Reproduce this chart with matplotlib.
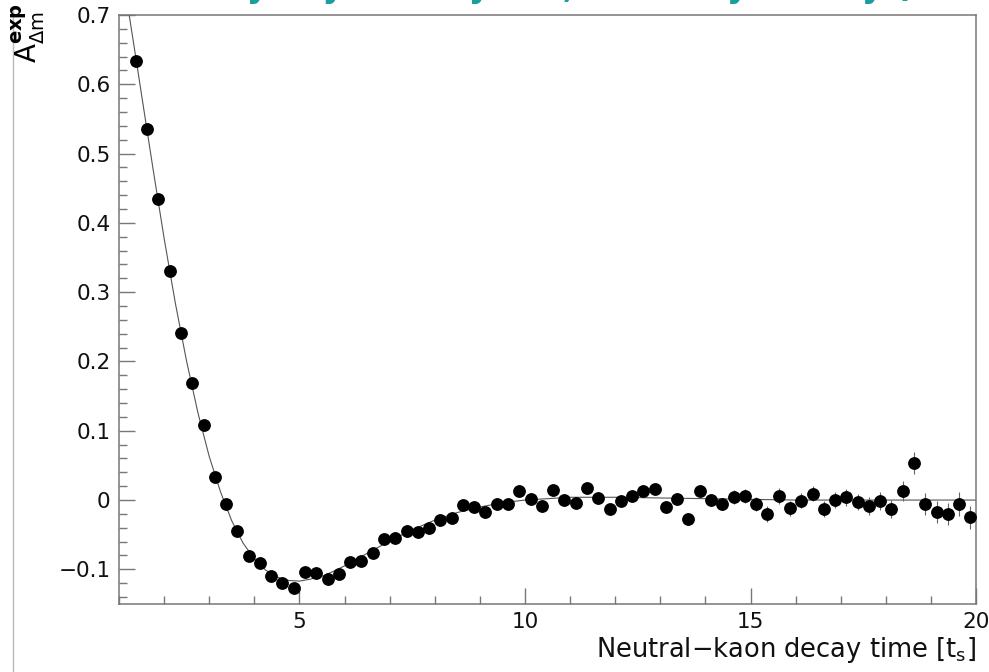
import numpy as np
import matplotlib.pyplot as plt
from matplotlib.lines import Line2D
from matplotlib.ticker import MultipleLocator

# bin centres of decay time [tau_s]
t = [1.375, 1.625, 1.875, 2.125, 2.375, 2.625, 2.875, 3.125, 3.375, 3.625,
     3.875, 4.125, 4.375, 4.625, 4.875, 5.125, 5.375, 5.625, 5.875, 6.125,
     6.375, 6.625, 6.875, 7.125, 7.375, 7.625, 7.875, 8.125, 8.375, 8.625,
     8.875, 9.125, 9.375, 9.625, 9.875, 10.125, 10.375, 10.625, 10.875, 11.125,
     11.375, 11.625, 11.875, 12.125, 12.375, 12.625, 12.875, 13.125, 13.375, 13.625,
     13.875, 14.125, 14.375, 14.625, 14.875, 15.125, 15.375, 15.625, 15.875, 16.125,
     16.375, 16.625, 16.875, 17.125, 17.375, 17.625, 17.875, 18.125, 18.375, 18.625,
     18.875, 19.125, 19.375, 19.625, 19.875]

# measured asymmetry
asym = [0.634, 0.535, 0.434, 0.331, 0.241, 0.169, 0.108, 0.033, -0.006, -0.045,
        -0.081, -0.091, -0.109, -0.120, -0.127, -0.104, -0.105, -0.114, -0.106, -0.089,
        -0.088, -0.076, -0.056, -0.055, -0.045, -0.046, -0.040, -0.029, -0.026, -0.007,
        -0.010, -0.017, -0.006, -0.006, 0.013, 0.001, -0.009, 0.014, 0.000, -0.004,
        0.017, 0.003, -0.013, -0.002, 0.006, 0.013, 0.016, -0.010, 0.001, -0.027,
        0.013, 0.000, -0.006, 0.004, 0.006, -0.006, -0.020, 0.006, -0.012, -0.001,
        0.009, -0.013, 0.000, 0.004, -0.003, -0.009, -0.001, -0.013, 0.013, 0.053,
        -0.006, -0.017, -0.020, -0.006, -0.025]

# statistical errors
err = [0.004, 0.004, 0.004, 0.004, 0.004, 0.004, 0.004, 0.004, 0.004, 0.004,
       0.004, 0.004, 0.004, 0.004, 0.004, 0.005, 0.005, 0.005, 0.005, 0.005,
       0.005, 0.005, 0.005, 0.005, 0.005, 0.005, 0.005, 0.006, 0.006, 0.006,
       0.006, 0.006, 0.006, 0.006, 0.006, 0.006, 0.006, 0.006, 0.006, 0.007,
       0.007, 0.007, 0.007, 0.007, 0.007, 0.007, 0.007, 0.008, 0.008, 0.009,
       0.009, 0.009, 0.009, 0.010, 0.010, 0.010, 0.011, 0.011, 0.011, 0.011,
       0.011, 0.012, 0.012, 0.012, 0.012, 0.013, 0.013, 0.013, 0.014, 0.016,
       0.016, 0.016, 0.016, 0.017, 0.017]

# fitted curve
fit_t = [1.2, 1.25, 1.375, 1.5, 1.75, 2.0, 2.25, 2.5, 2.75, 3.0, 3.25, 3.5, 3.75,
         4.0, 4.25, 4.5, 4.75, 5.0, 5.25, 5.5, 5.75, 6.0, 6.5, 7.0, 7.5, 8.0,
         8.5, 9.0, 9.5, 10.0, 11.0, 12.0, 13.0, 14.0, 15.0, 16.0, 18.0, 20.0]
fit_a = [0.711, 0.690, 0.638, 0.585, 0.480, 0.378, 0.284, 0.200, 0.126, 0.063,
         0.012, -0.030, -0.062, -0.085, -0.101, -0.111, -0.116, -0.117, -0.114,
         -0.110, -0.103, -0.095, -0.077, -0.059, -0.043, -0.029, -0.018, -0.010,
         -0.004, 0.000, 0.004, 0.004, 0.003, 0.002, 0.001, 0.000, 0.000, 0.000]

fig = plt.figure(figsize=(9.89, 6.72), dpi=100)
ax = fig.add_axes([0.1203, 0.1012, 0.8666, 0.8765])

ax.plot(fit_t, fit_a, color='#555555', lw=0.8, zorder=2)
ax.errorbar(t, asym, yerr=err, fmt='o', color='black', ms=8.2,
            ecolor='#666666', elinewidth=0.8, capsize=0, zorder=3)

ax.set_xlim(1, 20)
ax.set_ylim(-0.15, 0.7)
ax.xaxis.set_major_locator(MultipleLocator(5))
ax.xaxis.set_minor_locator(MultipleLocator(1))
ax.yaxis.set_major_locator(MultipleLocator(0.1))
ax.yaxis.set_minor_locator(MultipleLocator(0.02))
ax.tick_params(which='both', direction='in', color='#777777', width=1,
               labelsize=15.5, top=False, right=False, labelcolor='#111111')
ax.tick_params(which='major', length=11.5, pad=6)
ax.tick_params(which='minor', length=5.5)
ax.set_yticks([-0.1, 0, 0.1, 0.2, 0.3, 0.4, 0.5, 0.6, 0.7])
ax.set_yticklabels(['\u22120.1', '0', '0.1', '0.2', '0.3', '0.4', '0.5', '0.6', '0.7'])
for s in ax.spines.values():
    s.set_color('#777777')
    s.set_linewidth(1.1)

ax.set_xlabel('Neutral\u2212kaon decay time [t$_{\\mathregular{s}}$]', fontsize=18.5,
              loc='right', labelpad=2, color='#111111')
fig.text(0.048, 0.995, r'$\mathregular{A^{\mathbf{exp}}_{\Delta m}}$', rotation=90,
         fontsize=20, ha='right', va='top')

# title, mostly cut off by the top edge as in the original
fig.text(0.62, 1.005, 'Decay asymmetry Δm, fitted by theory (CPLEAR)',
         color='#1a9e9e', fontsize=24, fontweight='bold', ha='center', va='baseline')

fig.add_artist(Line2D([13 / 989, 13 / 989], [0, 0.99], color='#bbbbbb', lw=1))

fig.savefig('out.png', dpi=100)
